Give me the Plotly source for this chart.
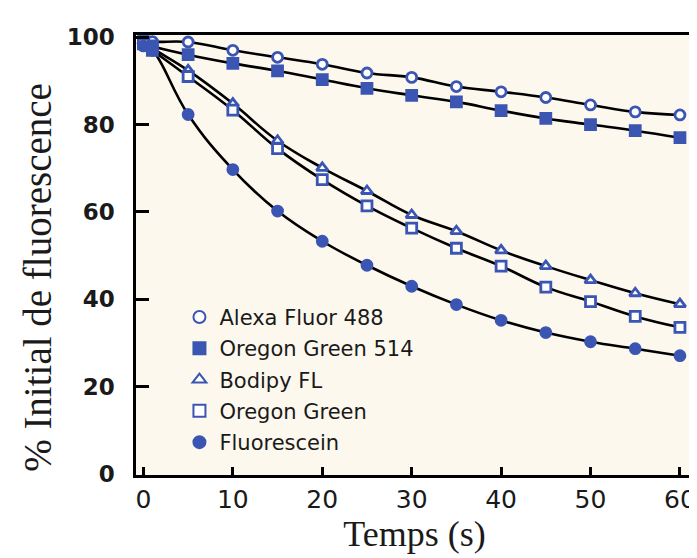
import plotly.graph_objects as go

# temps (s)
temps = [0, 1, 5, 10, 15, 20, 25, 30, 35, 40, 45, 50, 55, 60]

alexa_488 = [99.5, 99, 98.9, 97, 95.4, 93.8, 91.8, 90.8, 88.7, 87.5, 86.2, 84.5, 82.9, 82.2]
oregon_514 = [99, 98, 96, 94, 92.3, 90.3, 88.3, 86.7, 85.2, 83.2, 81.4, 80, 78.6, 77]
bodipy_fl = [99, 97.5, 92.4, 84.8, 76.3, 70.1, 64.8, 59.3, 55.6, 51.2, 47.6, 44.4, 41.4, 38.9]
oregon_green = [98.5, 97, 91, 83.3, 74.5, 67.4, 61.4, 56.3, 51.7, 47.6, 42.8, 39.5, 36.1, 33.6]
fluorescein = [98, 97, 82.3, 69.7, 60.2, 53.3, 47.8, 43, 38.8, 35.2, 32.4, 30.3, 28.7, 27.1]

noms = ["Alexa Fluor 488", "Oregon Green 514", "Bodipy FL", "Oregon Green", "Fluorescein"]
series = [alexa_488, oregon_514, bodipy_fl, oregon_green, fluorescein]
symboles = ["circle", "square", "triangle-up", "square", "circle"]
ouverts = [True, False, True, True, False]

BLEU = "#3b55b2"

fig = go.Figure()

# courbes noires
for y in series:
    fig.add_trace(go.Scatter(
        x=temps, y=y, mode="lines",
        line=dict(color="black", width=2.6, shape="spline", smoothing=1.2),
        showlegend=False, hoverinfo="skip",
    ))

# marqueurs
for i, (nom, y) in enumerate(zip(noms, series)):
    remplissage = "white" if ouverts[i] else BLEU
    fig.add_trace(go.Scatter(
        x=temps, y=y, mode="markers", name=nom,
        legendgroup=str(i),
        marker=dict(symbol=symboles[i], size=10, color=remplissage,
                    line=dict(color=BLEU, width=2.8)),
    ))

axe = dict(
    showgrid=False, zeroline=False, showline=True, linecolor="black",
    linewidth=2.5, mirror=True, ticks="inside", tickcolor="black",
    tickwidth=2.5,
)

fig.update_xaxes(
    **axe, range=[-0.83, 61.46], tickvals=[0, 10, 20, 30, 40, 50, 60],
    ticklen=8,
    tickfont=dict(family="DejaVu Sans", size=25, color="#1a1a1a"),
    title=dict(text="Temps (s)", standoff=8,
               font=dict(family="Liberation Serif", size=36, color="#1a1a1a")),
)
fig.update_yaxes(
    **axe, range=[-0.2, 100.5], tickvals=[0, 20, 40, 60, 80, 100],
    ticklen=13, ticklabelstandoff=14,
    tickfont=dict(family="DejaVu Sans", size=23, color="#1a1a1a", weight="bold"),
)

fig.add_annotation(
    text="% Initial de fluorescence", textangle=-90,
    xref="paper", yref="paper", x=-0.178, y=0.45,
    xanchor="center", yanchor="middle", showarrow=False,
    font=dict(family="Liberation Serif", size=39, color="#1a1a1a"),
)

fig.update_layout(
    width=697, height=558,
    margin=dict(l=128, r=9, t=27, b=91),
    paper_bgcolor="white",
    plot_bgcolor="#fdf8ee",
    legend=dict(
        x=0.078, y=0.405, xanchor="left", yanchor="top",
        bgcolor="rgba(0,0,0,0)", tracegroupgap=1,
        font=dict(family="DejaVu Sans", size=21, color="#1a1a1a"),
        itemsizing="constant",
    ),
)

fig.write_html("out.html")
